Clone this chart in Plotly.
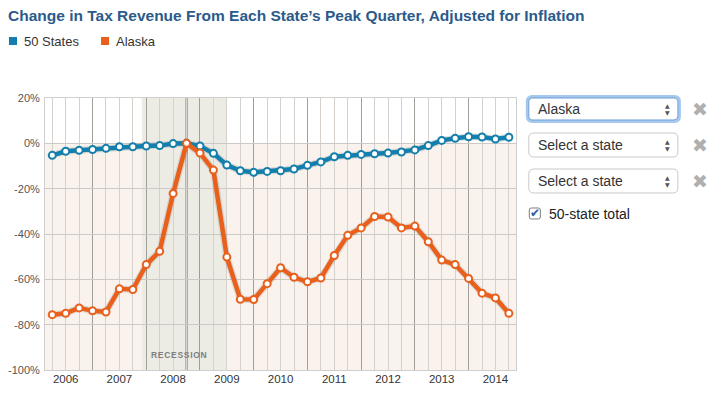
import plotly.graph_objects as go

# ---------------- data ----------------
quarter_index = list(range(35))  # quarterly observations, 2006 Q2 .. 2014 Q4 (approx.)
states50 = [-5.3, -3.5, -3.1, -2.7, -2.2, -1.5, -1.5, -1.2, -1.0, -0.1,
            0.0, -1.2, -4.4, -9.6, -12.1, -12.8, -12.4, -12.1, -11.3, -9.7,
            -8.2, -5.9, -5.3, -4.9, -4.6, -4.3, -3.8, -2.9, -1.0, 1.3,
            2.2, 2.9, 2.8, 1.9, 2.7]
alaska = [-75.6, -75.0, -72.6, -73.9, -74.4, -64.2, -64.5, -53.5, -47.6, -22.1,
          0.0, -4.3, -11.8, -50.2, -68.8, -68.9, -61.9, -54.9, -59.1, -61.1,
          -59.4, -49.5, -40.6, -37.3, -32.3, -32.5, -37.3, -36.5, -43.4, -51.5,
          -53.5, -59.6, -66.1, -68.2, -75.0]
year_labels = ["2006", "2007", "2008", "2009", "2010", "2011", "2012", "2013", "2014"]
year_label_pos = [1, 5, 9, 13, 17, 21, 25, 29, 33]
year_boundaries = [3, 7, 11, 15, 19, 23, 27, 31]
y_ticks = [20, 0, -20, -40, -60, -80, -100]
y_ticktext = ["20%", "0%", "-20%", "-40%", "-60%", "-80%", "-100%"]
recession_start, recession_end = 6.67, 13.0   # Dec 2007 – Jun 2009
peak_quarter = 10
series_names = ["50 States", "Alaska"]
series_colors = ["#137fac", "#e8601c"]

# ---------------- geometry helpers ----------------
OFF = 8                      # page body margin
W, H = 717 - OFF, 396 - OFF  # figure size
# plot area in page pixels
PL, PR, PT, PB = 45, 515.7, 98, 370
L, R, T, B = PL - OFF, PR - OFF, PT - OFF, PB - OFF


def px(x):
    return (x - PL) / (PR - PL)


def py(y):
    return (PB - y) / (PB - PT)


def rrect(x0, y0, x1, y1, r):
    pts = [("M", x0 + r, y0), ("L", x1 - r, y0), ("Q", x1, y0, x1, y0 + r),
           ("L", x1, y1 - r), ("Q", x1, y1, x1 - r, y1), ("L", x0 + r, y1),
           ("Q", x0, y1, x0, y1 - r), ("L", x0, y0 + r), ("Q", x0, y0, x0 + r, y0)]
    s = ""
    for p in pts:
        cmd = p[0]
        coords = p[1:]
        parts = []
        for i in range(0, len(coords), 2):
            parts.append(f"{px(coords[i]):.5f},{py(coords[i+1]):.5f}")
        s += cmd + " ".join(parts) + " "
    return s + "Z"


fig = go.Figure()

# line shadows
for vals in (states50, alaska):
    fig.add_trace(go.Scatter(x=quarter_index, y=vals, mode="lines",
                             line=dict(color="rgba(0,0,0,0.10)", width=7),
                             hoverinfo="skip", showlegend=False))
for name, vals, col in zip(series_names, [states50, alaska], series_colors):
    fig.add_trace(go.Scatter(x=quarter_index, y=vals, mode="lines+markers", name=name,
                             line=dict(color=col, width=4.5),
                             marker=dict(size=7, color="white", line=dict(color=col, width=2)),
                             showlegend=False))
# dummy trace on overlay axis so it renders
fig.add_trace(go.Scatter(x=[None], y=[None], xaxis="x2", showlegend=False, hoverinfo="skip"))

shapes = []
# peach background below zero
shapes.append(dict(type="rect", xref="paper", yref="y", x0=0, x1=1, y0=-100, y1=0,
                   fillcolor="#f9f2ed", line=dict(width=0), layer="below"))
# recession band
shapes.append(dict(type="rect", xref="x", yref="paper", x0=recession_start, x1=recession_end,
                   y0=0, y1=1, fillcolor="#ecebe4", line=dict(width=0), layer="below"))
# peak line
shapes.append(dict(type="line", xref="x", yref="paper", x0=peak_quarter, x1=peak_quarter,
                   y0=0, y1=1, line=dict(color="#a36c55", width=2), layer="between"))

# legend squares
shapes.append(dict(type="rect", xref="paper", yref="paper", x0=px(9), x1=px(17), y0=py(45), y1=py(37),
                   fillcolor=series_colors[0], line=dict(width=0)))
shapes.append(dict(type="rect", xref="paper", yref="paper", x0=px(101), x1=px(109), y0=py(45), y1=py(37),
                   fillcolor=series_colors[1], line=dict(width=0)))

# select boxes
shapes.append(dict(type="path", xref="paper", yref="paper", path=rrect(527, 96.5, 679, 121.5, 5),
                   fillcolor="white", line=dict(color="#a7c8ee", width=3)))
shapes.append(dict(type="path", xref="paper", yref="paper", path=rrect(528.5, 98, 677.5, 120, 4),
                   fillcolor="white", line=dict(color="#6b9fd6", width=1)))
for y0, y1 in [(133, 157), (169, 193)]:
    shapes.append(dict(type="path", xref="paper", yref="paper", path=rrect(528.5, y0, 677.5, y1, 5),
                       fillcolor="white", line=dict(color="#c9c9c9", width=1)))
# checkbox
shapes.append(dict(type="path", xref="paper", yref="paper", path=rrect(529, 208, 540, 219, 2),
                   fillcolor="white", line=dict(color="#7d7d7d", width=1)))

annotations = []
annotations.append(dict(xref="paper", yref="paper", x=px(6), y=py(16), xanchor="left", yanchor="middle",
                        text="<b>Change in Tax Revenue From Each State’s Peak Quarter, Adjusted for Inflation</b>",
                        showarrow=False, font=dict(family="Liberation Sans", size=15.5, color="#2b5a8b")))
annotations.append(dict(xref="paper", yref="paper", x=px(22), y=py(41.5), xanchor="left", yanchor="middle",
                        text=series_names[0], showarrow=False,
                        font=dict(family="Liberation Sans", size=13, color="#333")))
annotations.append(dict(xref="paper", yref="paper", x=px(114), y=py(41.5), xanchor="left", yanchor="middle",
                        text=series_names[1], showarrow=False,
                        font=dict(family="Liberation Sans", size=13, color="#333")))
annotations.append(dict(xref="x", yref="y", x=9.45, y=-93.4, xanchor="center", yanchor="middle",
                        text="<b>R\u200aE\u200aC\u200aE\u200aS\u200aS\u200aI\u200aO\u200aN</b>", showarrow=False,
                        font=dict(family="Liberation Sans", size=8.5, color="#7f7f7f")))
for txt, yc in [("Alaska", 109), ("Select a state", 145), ("Select a state", 181)]:
    annotations.append(dict(xref="paper", yref="paper", x=px(536), y=py(yc), xanchor="left", yanchor="middle",
                            text=txt, showarrow=False,
                            font=dict(family="Liberation Sans", size=14, color="#333")))
    annotations.append(dict(xref="paper", yref="paper", x=px(667), y=py(yc - 3.5), xanchor="center", yanchor="middle",
                            text="▲", showarrow=False, font=dict(family="DejaVu Sans", size=6, color="#555")))
    annotations.append(dict(xref="paper", yref="paper", x=px(667), y=py(yc + 3.5), xanchor="center", yanchor="middle",
                            text="▼", showarrow=False, font=dict(family="DejaVu Sans", size=6, color="#555")))
    annotations.append(dict(xref="paper", yref="paper", x=px(700), y=py(yc), xanchor="center", yanchor="middle",
                            text="✖", showarrow=False, font=dict(family="DejaVu Sans", size=19, color="#b0b0b0")))
annotations.append(dict(xref="paper", yref="paper", x=px(534.5), y=py(213), xanchor="center", yanchor="middle",
                        text="✔", showarrow=False, font=dict(family="DejaVu Sans", size=12, color="#2c5ea6")))
annotations.append(dict(xref="paper", yref="paper", x=px(547), y=py(214), xanchor="left", yanchor="middle",
                        text="50-state total", showarrow=False,
                        font=dict(family="Liberation Sans", size=14, color="#222")))

fig.update_layout(
    width=W, height=H,
    margin=dict(l=L, r=W - R, t=T, b=H - B, autoexpand=False),
    paper_bgcolor="white", plot_bgcolor="white",
    showlegend=False,
    shapes=shapes, annotations=annotations,
    xaxis=dict(range=[-0.54, 34.53], tickmode="array", tickvals=year_boundaries,
               showticklabels=False, ticks="", showgrid=True, gridcolor="#a39d98", gridwidth=1,
               minor=dict(tickmode="linear", tick0=0, dtick=1, showgrid=True, gridcolor="#d6d1cc", gridwidth=1),
               showline=True, linecolor="#cfcfcf", mirror=True, zeroline=False, fixedrange=True,
               automargin=False),
    xaxis2=dict(overlaying="x", matches="x", side="bottom", anchor="y", tickmode="array",
                tickvals=year_label_pos, ticktext=year_labels, showgrid=False, ticks="",
                tickfont=dict(family="Liberation Sans", size=11.5, color="#333"), zeroline=False,
                automargin=False),
    yaxis=dict(range=[-100, 20], tickmode="array", tickvals=y_ticks, ticktext=y_ticktext,
               showgrid=True, gridcolor="#cdc9c5", gridwidth=1, zeroline=False,
               ticks="", ticklabelstandoff=2,
               showline=True, linecolor="#cfcfcf", mirror=True, automargin=False,
               tickfont=dict(family="Liberation Sans", size=11, color="#555"), fixedrange=True),
)

fig.write_html("out.html")
